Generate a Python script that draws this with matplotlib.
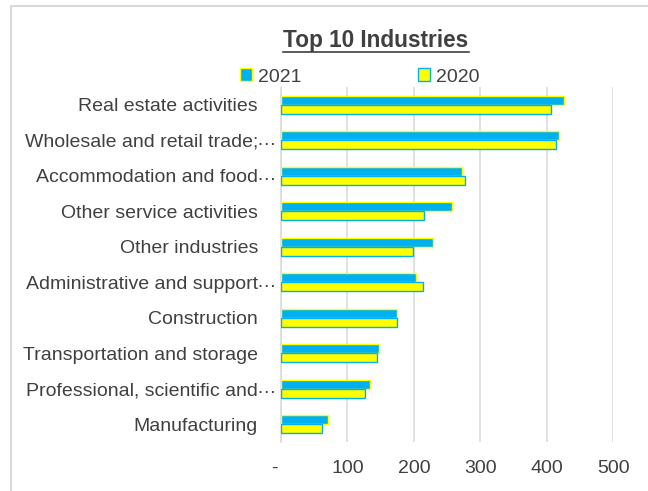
import numpy as np
import matplotlib
matplotlib.use("Agg")
import matplotlib.pyplot as plt
import matplotlib.transforms as mtransforms
from matplotlib.lines import Line2D

plt.rcParams['font.family'] = ['Liberation Sans', 'DejaVu Sans']

# data
industries = ["Real estate activities", "Wholesale and retail trade;", "Accommodation and food",
              "Other service activities", "Other industries", "Administrative and support",
              "Construction", "Transportation and storage", "Professional, scientific and",
              "Manufacturing"]
truncated = [False, True, True, False, False, True, False, False, True, False]
val_2021 = [426, 419, 273, 257, 229, 203, 175, 148, 134, 70]
val_2020 = [407, 414, 277, 215, 198, 214, 175, 144, 127, 61]
x_ticks = [0, 100, 200, 300, 400, 500]
x_tick_labels = ["-", "100", "200", "300", "400", "500"]

txt = "#404040"
grid = "#D9D9D9"
blue = "#00B0F0"
yellow = "#FFFF00"

W, H = 648, 491
fig = plt.figure(figsize=(W / 100, H / 100), dpi=100)
ax = fig.add_axes([281 / W, 1 - 442 / H, (613.3 - 281) / W, (442 - 87) / H])

y = np.arange(len(industries))
h = 0.25
ax.barh(y - h / 2, val_2021, height=h, color=blue, edgecolor=yellow, linewidth=1.0, label="2021", zorder=3)
ax.barh(y + h / 2, val_2020, height=h, color=yellow, edgecolor=blue, linewidth=1.0, label="2020", zorder=3)

ax.set_xlim(0, 500)
ax.set_ylim(len(industries) - 0.5, -0.5)
ax.set_xticks(x_ticks)
ax.set_xticklabels(x_tick_labels)
ax.set_yticks(y)
ax.set_yticklabels(industries)
ax.tick_params(axis="y", length=0, pad=16.6, labelsize=14, labelcolor=txt)
ax.tick_params(axis="x", length=0, pad=13, labelsize=14, labelcolor=txt)
ax.grid(axis="x", color=grid, linewidth=1.1, zorder=0)
ax.set_axisbelow(True)
for s in ["top", "right", "bottom"]:
    ax.spines[s].set_visible(False)
ax.spines["left"].set_color(grid)
ax.spines["left"].set_linewidth(1.1)

# the "-" of the accounting format sits a bit left of zero
lab0 = ax.get_xticklabels()[0]
lab0.set_transform(lab0.get_transform() + mtransforms.ScaledTranslation(-0.07, 0, fig.dpi_scale_trans))

# ellipsis after truncated category names
trans = mtransforms.blended_transform_factory(ax.transAxes, ax.transData) + \
    mtransforms.ScaledTranslation(-0.25, 0, fig.dpi_scale_trans)
for i, t in enumerate(truncated):
    if t:
        ax.text(0, y[i], "…", transform=trans, ha="left", va="center", fontsize=14, color=txt)

leg = ax.legend(loc="center", bbox_to_anchor=(360 / W, 1 - 77 / H), bbox_transform=fig.transFigure,
                ncol=2, frameon=False, fontsize=14, handlelength=0.62, handleheight=0.62,
                handletextpad=0.3, columnspacing=6.0, borderpad=0)
for t in leg.get_texts():
    t.set_color(txt)

title = fig.text(376 / W, 1 - 40 / H, "Top 10 Industries", ha="center", va="center",
                 fontsize=16.3, fontweight="bold", color=txt)

# chart border (only top and left edges are visible in the frame)
fig.add_artist(Line2D([11 / W, 1], [1 - 6 / H, 1 - 6 / H], transform=fig.transFigure, color=grid, linewidth=1.5))
fig.add_artist(Line2D([11 / W, 11 / W], [0, 1 - 6 / H], transform=fig.transFigure, color=grid, linewidth=1.5))

# underline the title
fig.canvas.draw()
bb = title.get_window_extent()
fig.add_artist(Line2D([bb.x0 / W, bb.x1 / W], [(bb.y0 - 0.5) / H, (bb.y0 - 0.5) / H],
                      transform=fig.transFigure, color=txt, linewidth=1.2))

fig.savefig("out.png", dpi=100)
